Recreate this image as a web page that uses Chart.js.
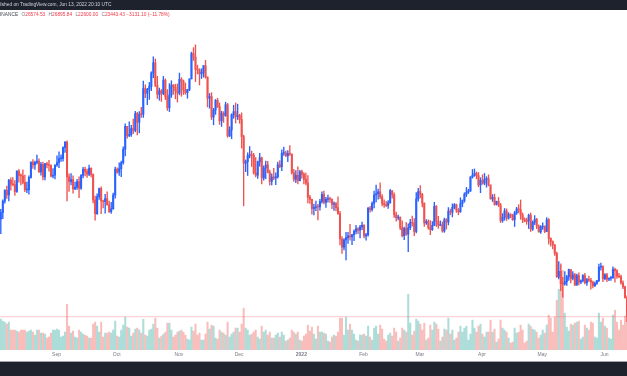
<!DOCTYPE html>
<html>
<head>
<meta charset="utf-8">
<script src="https://cdn.jsdelivr.net/npm/chart.js@4.4.0/dist/chart.umd.min.js"></script>
<style>
html,body{margin:0;padding:0;background:#fff;overflow:hidden}
#wrap{position:relative;width:627px;height:376px;overflow:hidden;font-family:"Liberation Sans",Arial,sans-serif}
#c{position:absolute;left:0;top:0}
#top{position:absolute;left:0;top:0;width:627px;height:9.5px;background:#1e222d}
#pub{position:absolute;left:-9px;top:0;line-height:9.5px;font-size:4.8px;color:#d1d4dc;white-space:nowrap}
#legend{position:absolute;left:-3.2px;top:12px;line-height:6px;font-size:4.8px;color:#434651;white-space:nowrap}
#legend .k{color:#787b86;margin-left:2px}
#legend .v{color:#f23645}
#bot{position:absolute;left:0;top:361px;width:627px;height:15px;background:#1e222d;border-top:1px solid #a3a6af;box-sizing:border-box}
</style>
</head>
<body>
<div id="wrap">
<canvas id="c" width="627" height="376"></canvas>
<div id="top"><div id="pub">Published on TradingView.com, Jun 13, 2022 20:10 UTC</div></div>
<div id="legend">BINANCE <span class="k">O</span><span class="v">26574.53</span> <span class="k">H</span><span class="v">26895.84</span> <span class="k">L</span><span class="v">22600.00</span> <span class="k">C</span><span class="v">23443.43</span> <span class="v">&#8722;3131.10 (&#8722;11.78%)</span></div>
<div id="bot"></div>
</div>
<script>
const startDate = '2021-08-05';

const open = [
39750,40870,42810,44610,43830,46290,45590,45550,44400,47830,47100,47040,45940,44690,44710,46760,49340,48870,49290,49510,47700,48950,46850,49070,48900,48810,46990,
47150,48850,49250,49940,49940,51790,52700,46860,46080,46400,44850,45140,46060,44960,47110,48140,47760,47300,48310,47260,42990,40690,43570,44900,42840,42710,43210,42170,41030,41520,
43820,48140,47660,48230,49250,51490,55340,53800,53970,54960,54660,57470,56010,57370,57350,61670,60880,61530,62010,64280,66000,62210,60690,61290,60850,63080,60330,58450,60590,62250,61890,
61300,60910,63220,62900,61400,61000,61530,63300,67550,66940,64880,64810,64150,64400,65500,63610,60060,60340,56890,58050,59700,58620,56260,57540,57140,58960,53730,54720,57270,57800,
56950,57180,56480,53600,49150,49400,50440,50590,50470,47540,47140,49390,50050,46700,48340,48860,47630,46130,46830,46680,46910,48890,48590,50820,50840,50400,50800,50700,47540,46460,47120,
46220,47720,47290,46450,45830,43450,43080,41560,41730,41860,41820,42740,43920,42590,43100,43180,43110,42250,42380,41690,40690,36460,35070,36280,36660,36960,36810,37160,37720,38170,37920,
38480,38740,36950,37150,41570,41380,42410,43840,44040,44370,43510,42390,42200,42050,42540,44540,43870,40500,40000,40090,38370,37000,38230,37250,38330,39210,39110,37700,
43160,44420,43920,42450,39140,39400,38410,38010,38730,41940,39420,38730,38810,37780,39670,39280,41110,40910,41760,42200,41260,41000,42360,42890,43960,44310,44500,46820,47130,47430,47060,
45510,46280,45810,46410,46580,45500,43170,43440,42250,42750,42160,39530,40070,41150,39940,40550,40380,39680,40800,41500,41360,40480,39710,39450,39440,40430,38110,39240,39740,38600,
37630,38470,38530,37710,39690,36550,36010,35470,34040,30080,31010,28940,28900,29280,30080,31320,29830,30450,28710,30310,29200,29430,30320,29100,29650,29540,29200,28620,29020,29470,31730,
31800,29800,30450,29700,29860,29910,31370,31130,30200,30110,29090,28420,26574
];

const high = [
41400,43000,44750,45310,46460,46700,46740,46220,47890,48140,47390,48050,47160,46000,47040,49380,49760,49530,50500,49870,49280,49350,49150,49310,49640,48900,48250,
48900,50400,51050,50540,51900,52800,52920,47380,47400,47040,45990,46460,46880,47250,48480,48500,48170,48820,48370,47360,43640,44000,45000,45200,42970,43950,44350,42790,42600,44140,
48500,48360,49230,49530,51890,55750,55340,56100,55490,56560,57840,57680,57800,58530,62930,62300,61720,62700,64490,67000,66640,63730,61750,61500,63710,63290,61500,62500,62980,62360,62410,
62440,64270,63500,63100,62600,61560,63300,67790,68530,69000,65600,65000,65000,65550,66400,63620,60850,60980,58350,59850,60040,59260,57880,57800,59400,59180,55280,57450,58870,59250,
59050,57380,57600,53860,49700,50900,51940,51200,50800,50100,49490,50800,50200,48700,49500,49450,48000,47390,48300,47540,49330,49580,51380,51870,51200,51280,52090,50700,48140,47900,48550,
47950,47990,47570,47500,47070,43750,43150,42300,42790,42250,43100,44350,44460,43450,43800,43480,43180,42690,42580,43500,41100,36840,36500,37550,37550,38920,37230,38000,38720,38360,38740,
39270,38850,37390,41770,41920,42660,44500,45500,44800,45850,43900,43000,42740,42880,44770,44580,44180,40960,40470,40150,39490,38450,39250,38990,39730,40300,39860,44230,
44950,45400,44100,42530,39700,39650,39550,39360,42600,42040,40250,39490,39310,39940,39870,41720,41470,42330,42400,42300,41550,43360,43000,44200,45100,44800,46920,48100,48190,47700,47600,
46720,47210,47440,46890,47200,45510,43900,43970,42800,43410,42420,40700,41560,41500,40870,40710,40600,41100,41760,42200,42980,40800,39990,39950,40620,40800,39480,40370,39900,38800,
38680,39170,38650,40020,39850,36650,36130,35500,34240,32650,32150,30030,30980,30350,31420,31320,31000,30700,30550,30780,29600,30490,30680,29830,30220,29850,29380,29250,29530,32220,32400,
31980,30650,30680,29950,30180,31760,31550,31330,30700,30380,29440,28560,26896
];

const low = [
37330,39850,42450,43260,42850,44650,45350,43770,44250,45970,45530,45670,44380,44220,43950,46630,48280,48110,49030,47600,47130,46330,46370,48370,47800,46870,46700,
46520,48620,48400,49460,49500,50970,42840,44410,45500,44140,44730,44740,43370,44740,46690,47030,46750,47050,46870,42500,39600,40570,43100,40680,41650,40790,42100,40880,40750,41420,
43290,47430,47100,46900,49000,50380,53360,53600,53660,54100,54420,53880,54250,56820,56850,60150,58960,59850,61320,63480,62000,60000,59710,59510,60650,59820,58000,57820,60170,60720,59940,
59400,60620,60380,60680,60720,60050,61320,63280,66380,62820,64110,62280,63360,63580,63400,58580,58370,56470,55600,57350,58500,55650,55320,55990,57000,53500,53610,53250,56680,55880,
56480,55840,51680,42000,47730,47100,50040,48600,47320,46850,46600,48640,45670,46290,46550,47530,45460,45500,46410,45560,46630,48420,47920,50450,50240,49420,50450,47300,46100,45900,45680,
46200,46650,45700,45500,42500,42430,40610,40500,41200,39650,41270,42450,42310,41720,42600,42590,41550,41250,41140,40560,35440,34010,34600,32920,35700,36230,35510,36160,37280,37350,36630,
38000,36620,36250,36900,40950,41120,41650,42670,43120,43200,42000,41750,41880,41570,42430,43310,40070,39450,39630,38000,36800,36350,37030,34320,38010,38580,37000,37450,
42800,43330,41830,38550,38900,38090,37160,37870,38660,38540,38220,38660,37580,37560,38100,38810,40500,40140,41500,40900,40500,40900,41840,42600,43570,44070,44420,46660,46950,46560,45200,
44200,45620,45530,45120,45350,43120,42730,42110,42130,41870,39200,39250,39600,39550,39770,40010,39550,38540,40570,40820,39750,39180,39310,38900,38200,37700,37880,38860,38170,37580,
37390,38050,37500,37670,35570,35250,34790,33710,30030,29730,27790,26700,28700,28670,29480,29090,29600,28660,28700,28730,28950,29240,28900,28670,29300,28020,28250,28450,28810,29300,31200,
29300,29570,29270,29450,29500,29880,29220,29850,29950,28850,28100,26560,22600
];

const close = [
40870,42810,44610,43830,46290,45590,45550,44400,47830,47100,47040,45940,44690,44710,46760,49340,48870,49290,49510,47700,48950,46850,49070,48900,48810,46990,47150,
48850,49250,49940,49940,51790,52700,46860,46080,46400,44850,45140,46060,44960,47110,48140,47760,47300,48310,47260,42990,40690,43570,44900,42840,42710,43210,42170,41030,41520,43820,
48140,47660,48230,49250,51490,55340,53800,53970,54960,54660,57470,56010,57370,57350,61670,60880,61530,62010,64280,66000,62210,60690,61290,60850,63080,60330,58450,60590,62250,61890,61300,
60910,63220,62900,61400,61000,61530,63300,67550,66940,64880,64810,64150,64400,65500,63610,60060,60340,56890,58050,59700,58620,56260,57540,57140,58960,53730,54720,57270,57800,56950,
57180,56480,53600,49150,49400,50440,50590,50470,47540,47140,49390,50050,46700,48340,48860,47630,46130,46830,46680,46910,48890,48590,50820,50840,50400,50800,50700,47540,46460,47120,46220,
47720,47290,46450,45830,43450,43080,41560,41730,41860,41820,42740,43920,42590,43100,43180,43110,42250,42380,41690,40690,36460,35070,36280,36660,36960,36810,37160,37720,38170,37920,38480,
38740,36950,37150,41570,41380,42410,43840,44040,44370,43510,42390,42200,42050,42540,44540,43870,40500,40000,40090,38370,37000,38230,37250,38330,39210,39110,37700,43160,
44420,43920,42450,39140,39400,38410,38010,38730,41940,39420,38730,38810,37780,39670,39280,41110,40910,41760,42200,41260,41000,42360,42890,43960,44310,44500,46820,47130,47430,47060,45510,
46280,45810,46410,46580,45500,43170,43440,42250,42750,42160,39530,40070,41150,39940,40550,40380,39680,40800,41500,41360,40480,39710,39450,39440,40430,38110,39240,39740,38600,37630,
38470,38530,37710,39690,36550,36010,35470,34040,30080,31010,28940,28900,29280,30080,31320,29830,30450,28710,30310,29200,29430,30320,29100,29650,29540,29200,28620,29020,29470,31730,31800,
29800,30450,29700,29860,29910,31370,31130,30200,30110,29090,28420,26574,23443
];

// volume, thousands of BTC
const volume = [
62,58,56,52,56,40,40,40,38,36,40,40,40,36,38,40,36,30,40,40,34,34,32,24,26,34,40,
40,42,40,26,28,36,92,48,34,38,26,24,40,36,32,30,28,24,24,52,56,48,36,56,26,34,34,36,34,40,
58,28,26,40,50,66,46,44,28,34,42,44,40,34,62,30,28,40,42,52,64,44,24,28,32,36,54,54,40,26,30,
36,38,40,36,30,22,20,46,38,52,30,34,20,20,32,56,42,50,48,24,22,40,36,34,30,56,26,32,36,44,
44,36,52,84,44,40,30,32,36,40,26,22,48,36,40,30,36,24,24,30,34,26,36,30,18,20,24,40,36,32,36,
20,18,28,32,50,38,46,32,22,48,36,36,34,32,18,16,26,30,28,36,64,64,30,66,40,52,40,32,20,18,30,
30,32,28,48,26,20,44,48,32,50,42,22,18,30,34,28,44,36,18,24,44,40,36,112,54,30,38,62,
58,52,40,54,20,24,50,40,56,52,42,18,26,42,40,64,32,40,20,24,36,48,36,44,48,20,32,60,44,36,48,
52,32,26,36,36,60,36,42,16,22,60,44,40,36,24,14,16,44,34,36,50,40,14,18,52,48,42,40,36,24,
30,40,34,50,70,64,36,66,100,122,174,160,74,46,38,52,50,54,56,58,22,26,50,44,40,56,54,26,24,74,56,
64,48,44,24,22,70,80,56,40,60,50,68,90
];

const tickDates = ['2021-09-01','2021-10-01','2021-11-01','2021-12-01','2022-01-01','2022-02-01','2022-03-01','2022-04-01','2022-05-01','2022-06-01'];
const tickLabels = ['Sep','Oct','Nov','Dec','2022','Feb','Mar','Apr','May','Jun'];

const UP = '#2962ff', DOWN = '#ef5350';
const UPV = 'rgba(38,166,154,0.38)', DOWNV = 'rgba(239,83,80,0.38)';

const DAY = 86400000;
const t0 = Date.parse(startDate);
const dayIndex = s => Math.round((Date.parse(s) - t0) / DAY);
const tickMap = {};
tickDates.forEach((d, k) => { tickMap[dayIndex(d)] = tickLabels[k]; });

const isUp = close.map((c, i) => c >= open[i]);
const bodies = close.map((c, i) => ({x: i, y: [open[i], c]}));
const wicks = close.map((c, i) => ({x: i, y: [low[i], high[i]]}));
const vols = volume.map((v, i) => ({x: i, y: v}));
const candleColors = isUp.map(u => u ? UP : DOWN);
const volColors = isUp.map(u => u ? UPV : DOWNV);
const lastClose = close[close.length - 1];
const XMIN = -0.4, XMAX = 312;

new Chart(document.getElementById('c'), {
  type: 'bar',
  data: {
    datasets: [
      {data: bodies, backgroundColor: candleColors, barThickness: 1.4, minBarLength: 0.8, grouped: false, yAxisID: 'y', order: 0},
      {data: wicks, backgroundColor: candleColors, barThickness: 0.7, grouped: false, yAxisID: 'y', order: 1},
      {type: 'line', data: [{x: XMIN, y: lastClose}, {x: XMAX, y: lastClose}], borderColor: 'rgba(242,54,69,0.22)', borderWidth: 1.2, pointRadius: 0, yAxisID: 'y', order: 2},
      {data: vols, backgroundColor: volColors, barThickness: 1.4, grouped: false, yAxisID: 'v', order: 3}
    ]
  },
  options: {
    responsive: false,
    animation: false,
    devicePixelRatio: 1,
    layout: {padding: {top: 10, bottom: 16, left: 0, right: 0}},
    plugins: {legend: {display: false}, tooltip: {enabled: false}},
    scales: {
      x: {
        type: 'linear', min: XMIN, max: XMAX, offset: false,
        grid: {display: false, drawTicks: false},
        border: {display: false},
        afterBuildTicks: s => { s.ticks = tickDates.map(d => ({value: dayIndex(d)})); },
        ticks: {
          autoSkip: false, maxRotation: 0, padding: 2, labelOffset: 1.5,
          font: ctx => ({size: 5, family: 'Liberation Sans', weight: (ctx.tick && /^\d{4}$/.test(tickMap[ctx.tick.value] || '')) ? 'bold' : 'normal'}),
          color: '#787b86',
          callback: v => tickMap[v] || ''
        }
      },
      y: {display: false, min: 17830, max: 74845},
      v: {display: false, min: 0, max: 683}
    }
  }
});
</script>
</body>
</html>
